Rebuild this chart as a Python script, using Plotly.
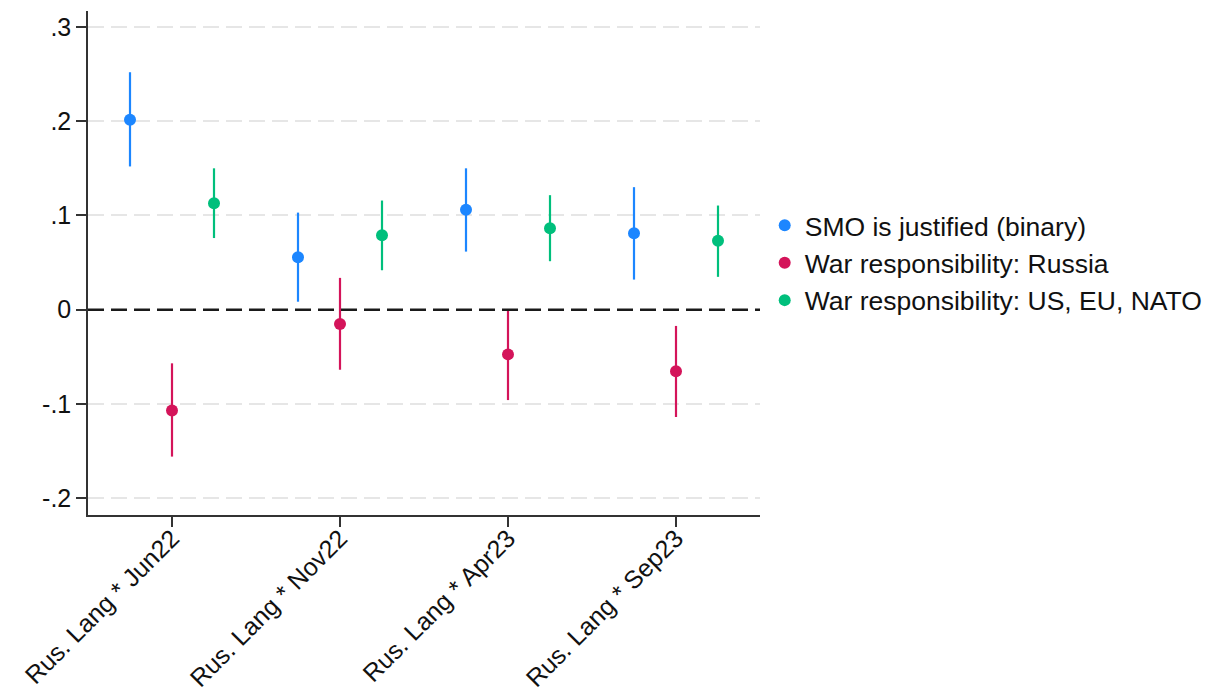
import plotly.graph_objects as go

# Survey waves (interaction terms)
categories = ["Rus. Lang * Jun22", "Rus. Lang * Nov22", "Rus. Lang * Apr23", "Rus. Lang * Sep23"]

# Point estimates and 95% CI bounds per outcome
smo_est = [0.2015, 0.0556, 0.106, 0.081]
smo_lo = [0.152, 0.0084, 0.0616, 0.0319]
smo_hi = [0.252, 0.103, 0.150, 0.130]

rus_est = [-0.107, -0.0153, -0.0475, -0.0655]
rus_lo = [-0.156, -0.0638, -0.096, -0.114]
rus_hi = [-0.057, 0.0337, 0.0007, -0.0173]

west_est = [0.113, 0.079, 0.0864, 0.073]
west_lo = [0.076, 0.0418, 0.0514, 0.0348]
west_hi = [0.150, 0.1158, 0.1215, 0.1105]

y_ticks = [-0.2, -0.1, 0, 0.1, 0.2, 0.3]
y_tick_labels = ["-.2", "-.1", "0", ".1", ".2", ".3"]

series = [
    ("SMO is justified (binary)", smo_est, smo_lo, smo_hi, "#1C86FF", -0.25),
    ("War responsibility: Russia", rus_est, rus_lo, rus_hi, "#D4145A", 0.0),
    ("War responsibility: US, EU, NATO", west_est, west_lo, west_hi, "#00BF7C", 0.25),
]

FONT = "Liberation Sans, Arial, sans-serif"

fig = go.Figure()
for i, (name, est, lo, hi, color, offset) in enumerate(series):
    xs = [k + 1 + offset for k in range(len(categories))]
    fig.add_trace(go.Scatter(
        x=xs,
        y=est,
        mode="markers",
        name=name,
        legendgroup=f"g{i}",
        marker=dict(color=color, size=12),
        error_y=dict(
            type="data",
            symmetric=False,
            array=[h - e for h, e in zip(hi, est)],
            arrayminus=[e - l for e, l in zip(est, lo)],
            color=color,
            thickness=2.2,
            width=0,
        ),
        hoverinfo="skip",
    ))

# Reference line at zero
fig.add_shape(
    type="line", xref="paper", x0=0, x1=1, yref="y", y0=0, y1=0,
    line=dict(color="#1a1a1a", width=2.5, dash="16px,7px"),
    layer="above",
)

fig.update_layout(
    width=1211,
    height=700,
    margin=dict(l=88, r=451, t=11, b=185, pad=0, autoexpand=False),
    paper_bgcolor="white",
    plot_bgcolor="white",
    font=dict(family=FONT, size=25, color="#111111"),
    showlegend=True,
    legend=dict(
        x=1.007, xanchor="left", y=0.5, yanchor="middle",
        font=dict(family=FONT, size=26.5, color="#111111"),
        tracegroupgap=0,
        itemwidth=30,
        bgcolor="rgba(0,0,0,0)",
    ),
    xaxis=dict(
        range=[0.5, 4.5],
        automargin=False,
        tickmode="array",
        tickvals=[k + 1 for k in range(len(categories))],
        ticktext=categories,
        tickangle=-45,
        ticks="outside",
        ticklen=10,
        tickwidth=1.5,
        tickcolor="#333333",
        ticklabelstandoff=-13,
        showline=True,
        linecolor="#333333",
        linewidth=1.5,
        showgrid=False,
        zeroline=False,
        tickfont=dict(family=FONT, size=25, color="#111111"),
    ),
    yaxis=dict(
        range=[-0.218, 0.317],
        automargin=False,
        tickmode="array",
        tickvals=y_ticks,
        ticktext=y_tick_labels,
        ticks="outside",
        ticklen=10,
        tickwidth=1.5,
        tickcolor="#333333",
        showline=True,
        linecolor="#333333",
        linewidth=1.5,
        showgrid=True,
        gridcolor="#e6e6e6",
        gridwidth=1.5,
        griddash="16px,7px",
        zeroline=False,
        tickfont=dict(family=FONT, size=25, color="#111111"),
    ),
)

fig.write_html("out.html")
